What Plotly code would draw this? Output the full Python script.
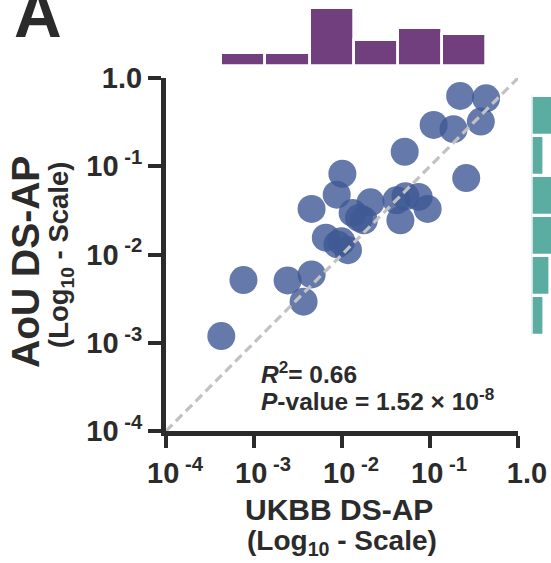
import numpy as np
import plotly.graph_objects as go

# Disease-specific average precision per phenotype in the two biobanks
ukbb_ds_ap = [4.25e-4, 7.59e-4, 2.41e-3, 4.52e-3, 3.66e-3, 4.51e-3, 6.55e-3, 9.84e-3,
              1.17e-2, 8.71e-3, 1.01e-2, 1.32e-2, 1.77e-2, 2.11e-2, 4.16e-2, 4.61e-2,
              5.26e-2, 7.43e-2, 9.40e-2, 5.16e-2, 0.110, 0.185, 0.220, 0.434,
              0.378, 0.258, 8.87e-3, 1.56e-2]
aou_ds_ap = [1.19e-3, 5.13e-3, 5.08e-3, 5.94e-3, 2.92e-3, 3.28e-2, 1.55e-2, 1.41e-2,
             1.12e-2, 4.76e-2, 8.22e-2, 2.96e-2, 2.44e-2, 3.90e-2, 4.11e-2, 2.44e-2,
             4.56e-2, 4.49e-2, 3.28e-2, 0.146, 0.294, 0.263, 0.627, 0.589,
             0.321, 0.0735, 1.30e-2, 2.60e-2]

tick_vals = [1e-4, 1e-3, 1e-2, 1e-1, 1.0]
tick_text = ["10<sup> -4</sup>", "10<sup> -3</sup>", "10<sup> -2</sup>",
             "10<sup> -1</sup>", "1.0"]

stats_r2 = "<i>R</i><sup>2</sup>= 0.66"
stats_p = "<i>P</i>-value = 1.52 × 10<sup>-8</sup>"

W, H = 551, 563
INK = "#2b2b2b"
FONT = "Arial, Liberation Sans, sans-serif"


def fx(px):
    return px / W


def fy(py):
    return 1 - py / H


log_x = np.log10(ukbb_ds_ap)
log_y = np.log10(aou_ds_ap)
n_bins = 6


def bins_for(v):
    lo, hi = float(v.min()), float(v.max())
    size = (hi - lo) / n_bins * (1 + 1e-6)
    return dict(start=lo, end=hi + size * 0.5, size=size)


fig = go.Figure()

# marginal histogram of UKBB values (top)
fig.add_trace(go.Histogram(
    x=log_x, xbins=bins_for(log_x), xaxis="x2", yaxis="y2",
    marker=dict(color="#723F7E", line=dict(color="white", width=2.7)),
    hoverinfo="skip", showlegend=False))

# marginal histogram of AoU values (right)
fig.add_trace(go.Histogram(
    y=log_y, ybins=bins_for(log_y), xaxis="x3", yaxis="y3",
    marker=dict(color="#5BADA2", line=dict(color="white", width=3.3)),
    hoverinfo="skip", showlegend=False))

# scatter of the phenotypes
fig.add_trace(go.Scatter(
    x=ukbb_ds_ap, y=aou_ds_ap, mode="markers",
    marker=dict(size=28, color="rgba(62,89,149,0.8)", line=dict(width=0)),
    showlegend=False))

# identity line
fig.add_trace(go.Scatter(
    x=[1e-4, 1.0], y=[1e-4, 1.0], mode="lines",
    line=dict(color="#c2c2c2", width=3.2, dash="9px,5px"),
    showlegend=False, hoverinfo="skip"))

x_dom = [fx(166), fx(518)]
y_dom = [fy(431), fy(78)]

axis_common = dict(
    showline=True, linewidth=5, linecolor=INK,
    ticks="outside", tickwidth=4, tickcolor=INK,
    tickvals=tick_vals, ticktext=tick_text,
    tickfont=dict(family=FONT, size=29, color=INK, weight="bold"),
    showgrid=False, zeroline=False, type="log", range=[-4, 0],
    automargin=False,
)

fig.update_layout(
    width=W, height=H,
    margin=dict(l=0, r=0, t=0, b=0),
    paper_bgcolor="white", plot_bgcolor="white",
    bargap=0,
    xaxis=dict(domain=x_dom, anchor="y", ticklen=12, ticklabelshift=9, **axis_common),
    yaxis=dict(domain=y_dom, anchor="x", ticklen=13, **axis_common),
    xaxis2=dict(domain=x_dom, anchor="y2", range=[-4, 0], visible=False),
    yaxis2=dict(domain=[fy(66), 1], anchor="x2", range=[0, 10.31], visible=False),
    xaxis3=dict(domain=[fx(531.7), 1], anchor="y3", range=[0, 2.97], visible=False),
    yaxis3=dict(domain=y_dom, anchor="x3", range=[-4, 0], visible=False),
)

ann_font = dict(family=FONT, color=INK, weight="bold")
annotations = [
    dict(text="A", x=fx(37.5), y=fy(53), xanchor="center", yanchor="bottom",
         font=dict(size=66, **ann_font)),
    dict(text=stats_r2, x=fx(259), y=fy(372.5), xanchor="left", yanchor="middle",
         font=dict(size=24.5, **ann_font)),
    dict(text=stats_p, x=fx(259), y=fy(399), xanchor="left", yanchor="middle",
         font=dict(size=24.5, **ann_font)),
    dict(text="UKBB DS-AP", x=fx(339), y=fy(509), xanchor="center", yanchor="middle",
         font=dict(size=30, **ann_font)),
    dict(text="(Log<sub>10</sub> - Scale)", x=fx(341.5), y=fy(542), xanchor="center",
         yanchor="middle", font=dict(size=28, **ann_font)),
    dict(text="AoU DS-AP", x=fx(25), y=fy(262), xanchor="center", yanchor="middle",
         textangle=-90, font=dict(size=39, **ann_font)),
    dict(text="(Log<sub>10</sub> - Scale)", x=fx(60), y=fy(255), xanchor="center",
         yanchor="middle", textangle=-90, font=dict(size=27.5, **ann_font)),
]
for a in annotations:
    a.update(xref="paper", yref="paper", showarrow=False)
fig.update_layout(annotations=annotations)

fig.write_html("out.html")
